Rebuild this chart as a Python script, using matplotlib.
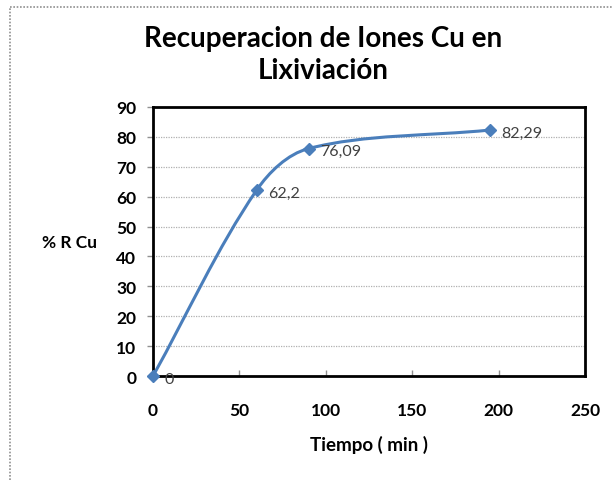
import matplotlib
matplotlib.use("Agg")
from matplotlib import pyplot as plt
from matplotlib.path import Path
from matplotlib.patches import PathPatch
from matplotlib.lines import Line2D
import numpy as np

tiempo = [0, 60, 90, 195]
recuperacion = [0, 62.2, 76.09, 82.29]
etiquetas = ["0", "62,2", "76,09", "82,29"]

azul = "#4a7ebb"
fuente = ["Lato", "DejaVu Sans"]


def curva_suave(ax, xs, ys):
    # curva suavizada tipo Excel, calculada en pixeles
    pts = ax.transData.transform(np.column_stack([xs, ys]))
    n = len(pts)
    verts = [pts[0]]
    codes = [Path.MOVETO]
    for i in range(n - 1):
        p0 = pts[i - 1] if i > 0 else pts[i]
        p1 = pts[i]
        p2 = pts[i + 1]
        p3 = pts[i + 2] if i + 2 < n else pts[i + 1]
        d01 = np.hypot(*(p1 - p0))
        d12 = np.hypot(*(p2 - p1))
        d23 = np.hypot(*(p3 - p2))
        c1 = p1 + (p2 - p0) * d12 / (3 * (d01 + d12))
        c2 = p2 - (p3 - p1) * d12 / (3 * (d12 + d23))
        verts += [c1, c2, p2]
        codes += [Path.CURVE4] * 3
    verts = ax.transData.inverted().transform(np.array(verts))
    return Path(verts, codes)


fig = plt.figure(figsize=(6.13, 4.81), dpi=100)
ax = fig.add_axes([0.2496, 0.2162, 0.7047, 0.5593])
ax.set_xlim(0, 250)
ax.set_ylim(0, 90)

ax.add_patch(PathPatch(curva_suave(ax, tiempo, recuperacion), fill=False,
                       edgecolor=azul, lw=2.2, zorder=3))
ax.plot(tiempo, recuperacion, ls="none", marker="D", ms=6.5,
        color=azul, zorder=4, clip_on=False)

for x, y, t in zip(tiempo, recuperacion, etiquetas):
    ax.annotate(t, (x, y), xytext=(8, -2), textcoords="offset points",
                fontsize=11.5, color="#404040", family=fuente, va="center")

ax.set_xticks(range(0, 251, 50))
ax.set_yticks(range(0, 91, 10))
ax.grid(axis="y", color="#b0b0b0", lw=0.9, ls=(0, (1, 1)))
ax.set_axisbelow(True)
for s in ax.spines.values():
    s.set_linewidth(2)
    s.set_color("black")
ax.tick_params(axis="both", labelsize=12.5, color="#909090", length=4, width=1)
ax.tick_params(axis="x", direction="in", pad=19)
ax.tick_params(axis="y", pad=8)
for lab in ax.get_xticklabels() + ax.get_yticklabels():
    lab.set_fontweight("bold")
    lab.set_family(fuente)

ax.set_xlabel("Tiempo ( min )", fontsize=13.5, fontweight="bold",
              family=fuente, labelpad=12)
fig.text(0.068, 0.495, "% R Cu", fontsize=12.5, fontweight="bold",
         family=fuente, va="center")

fig.text(0.527, 0.918, "Recuperacion de Iones Cu en", fontsize=20,
         fontweight="bold", family=fuente, ha="center", va="center")
fig.text(0.527, 0.852, "Lixiviación", fontsize=20,
         fontweight="bold", family=fuente, ha="center", va="center")

# borde punteado
fig.add_artist(Line2D([0.017, 0.017], [0.0, 0.983], color="#909090",
                      lw=1.2, ls=(0, (1, 1)), transform=fig.transFigure))
fig.add_artist(Line2D([0.017, 1.0], [0.983, 0.983], color="#909090",
                      lw=1.2, ls=(0, (1, 1)), transform=fig.transFigure))

fig.savefig("out.png", dpi=100)
